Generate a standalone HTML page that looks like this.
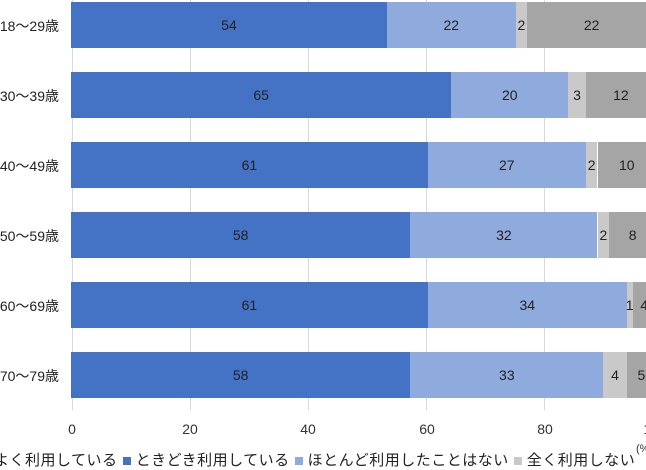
<!DOCTYPE html>
<html><head><meta charset="utf-8"><style>
body{margin:0;width:646px;height:461px;overflow:hidden;background:#fff;font-family:"Liberation Sans","Noto Sans CJK JP",sans-serif;position:relative}
.a{position:absolute}
.g{position:absolute;top:0;width:1px;height:410px;background:#d9d9d9}
.s{position:absolute;height:46px;display:flex;align-items:center;justify-content:center;font-size:14px;color:#222}
.lab{position:absolute;right:587px;font-size:14px;color:#222;white-space:nowrap}
.t{position:absolute;top:421px;font-size:14px;color:#333;transform:translateX(-50%)}
.m{display:inline-block;width:8px;height:8px;margin:0 5px}
</style></head><body>
<div class="g" style="left:72px"></div><div class="g" style="left:190px"></div><div class="g" style="left:308px"></div><div class="g" style="left:426px"></div><div class="g" style="left:544px"></div>
<div id="c"></div>
<div class="t" style="left:72px">0</div><div class="t" style="left:190px">20</div><div class="t" style="left:308px">40</div><div class="t" style="left:427px">60</div><div class="t" style="left:545px">80</div><div class="t" style="left:655px">100</div>
<div class="a" style="left:636px;top:443px;font-size:11px;color:#333">(%)</div>
<div class="a" style="left:-6px;top:449px;font-size:15px;letter-spacing:0.5px;color:#222;white-space:nowrap">よく利用している<span class="m" style="background:#4472C4"></span>ときどき利用している<span class="m" style="background:#8FAADC"></span>ほとんど利用したことはない<span class="m" style="background:#C9C9C9"></span>全く利用しない</div>
<script>
var d=[["18～29歳",54,22,2,22],["30～39歳",65,20,3,12],["40～49歳",61,27,2,10],["50～59歳",58,32,2,8],["60～69歳",61,34,1,4],["70～79歳",58,33,4,5]];
var col=["#4472C4","#8FAADC","#C9C9C9","#A5A5A5"],h="";
d.forEach(function(r,i){var y=2+i*70,x=71;
h+='<div class="lab" style="top:'+(y+14)+'px">'+r[0]+'</div>';
for(var k=0;k<4;k++){var w=r[k+1]*5.85;h+='<div class="s" style="left:'+x+'px;top:'+y+'px;width:'+w+'px;background:'+col[k]+'">'+r[k+1]+'</div>';x+=w;}});
document.getElementById("c").innerHTML=h;
</script>
</body></html>
